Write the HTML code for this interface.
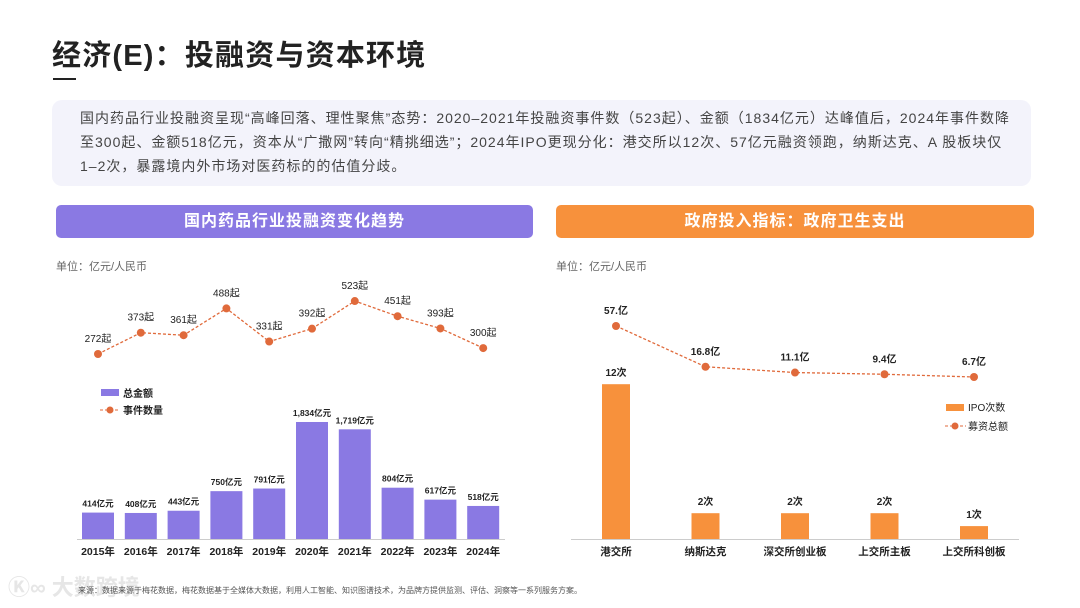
<!DOCTYPE html>
<html><head><meta charset="utf-8"><style>
body{margin:0;width:1080px;height:608px;background:#fff;overflow:hidden;position:relative;font-family:"Liberation Sans","Noto Sans CJK SC",sans-serif;color:#222}
.abs{position:absolute}
#title{left:52px;top:32px;font-size:29px;font-weight:bold;letter-spacing:1.2px;color:#222;white-space:nowrap}
#uline{left:53px;top:78px;width:23px;height:2px;background:#222}
#box{left:52px;top:100px;width:979px;height:86px;background:#f3f3fb;border-radius:10px}
#para{left:80px;top:106px;font-size:14px;line-height:24px;letter-spacing:1px;color:#444;white-space:nowrap}
.hdr{top:205px;height:33px;border-radius:5px;color:#fff;font-size:16px;font-weight:bold;text-align:center;line-height:33px;letter-spacing:1px}
.unit{top:258px;font-size:11px;color:#666}
#foot{left:78px;top:585px;font-size:8px;color:#555;white-space:nowrap}
#wm{left:8px;top:570px;font-size:22px;color:#e6e6e6;font-weight:bold;white-space:nowrap}
</style></head><body>
<div class="abs" id="title">经济(E)：投融资与资本环境</div>
<div class="abs" id="uline"></div>
<div class="abs" id="box"></div>
<div class="abs" id="para">国内药品行业投融资呈现“高峰回落、理性聚焦”态势：2020–2021年投融资事件数（523起）、金额（1834亿元）达峰值后，2024年事件数降<br>至300起、金额518亿元，资本从“广撒网”转向“精挑细选”；2024年IPO更现分化：港交所以12次、57亿元融资领跑，纳斯达克、A 股板块仅<br>1–2次，暴露境内外市场对医药标的的估值分歧。</div>
<div class="abs hdr" style="left:56px;width:477px;background:#8a79e3">国内药品行业投融资变化趋势</div>
<div class="abs hdr" style="left:556px;width:478px;background:#f7913c">政府投入指标：政府卫生支出</div>
<div class="abs unit" style="left:56px">单位：亿元/人民币</div>
<div class="abs unit" style="left:556px">单位：亿元/人民币</div>
<div class="abs" id="wm">Ⓚ∞ 大数跨境</div>
<div class="abs" id="foot">来源：数据来源于梅花数据，梅花数据基于全媒体大数据，利用人工智能、知识图谱技术，为品牌方提供监测、评估、洞察等一系列服务方案。</div>
<svg class="abs" id="chart" style="left:0;top:0" width="1080" height="608"></svg>
<script>
const years=["2015年","2016年","2017年","2018年","2019年","2020年","2021年","2022年","2023年","2024年"];
const amounts=[414,408,443,750,791,1834,1719,804,617,518];
const amountLabels=["414亿元","408亿元","443亿元","750亿元","791亿元","1,834亿元","1,719亿元","804亿元","617亿元","518亿元"];
const events=[272,373,361,488,331,392,523,451,393,300];
const exchanges=["港交所","纳斯达克","深交所创业板","上交所主板","上交所科创板"];
const ipoCounts=[12,2,2,2,1];
const raised=[57,16.8,11.1,9.4,6.7];
const raisedLabels=["57.亿","16.8亿","11.1亿","9.4亿","6.7亿"];
const svg=document.getElementById('chart');const NS="http://www.w3.org/2000/svg";
function mk(t,a,txt){const e=document.createElementNS(NS,t);for(const k in a)e.setAttribute(k,a[k]);if(txt!==undefined)e.textContent=txt;svg.appendChild(e);return e;}
const F='"Liberation Sans","Noto Sans CJK SC",sans-serif';
const lx=i=>98+i*42.8, ly=v=>539-v*0.0638, ey=v=>354-(v-272)*0.211;
years.forEach((y,i)=>{
 let r=mk('rect',{x:lx(i)-16,y:ly(amounts[i]),width:32,height:539-ly(amounts[i]),fill:'#8a79e3'});
 
 let t=mk('text',{x:lx(i),y:ly(amounts[i])-6,'text-anchor':'middle','font-size':8.5,'font-weight':'bold','font-family':F,fill:'#222'},amountLabels[i]);
 
 let a=mk('text',{x:lx(i),y:555,'text-anchor':'middle','font-size':10.5,'font-weight':'bold','font-family':F,fill:'#222'},y);
 
});
let bl=mk('line',{x1:77,x2:505,y1:539.5,y2:539.5,stroke:'#ccc'});
let pl=mk('polyline',{points:events.map((v,i)=>lx(i)+','+ey(v)).join(' '),fill:'none',stroke:'#e06a3b','stroke-width':1.3,'stroke-dasharray':'3,2'});

events.forEach((v,i)=>{
 let c=mk('circle',{cx:lx(i),cy:ey(v),r:4,fill:'#e06a3b'});
 let t=mk('text',{x:lx(i),y:ey(v)-12,'text-anchor':'middle','font-size':10,'font-family':F,fill:'#222'},v+'起');
 
});
let lg1=mk('rect',{x:101,y:389,width:18,height:7,fill:'#8a79e3'});
let lt1=mk('text',{x:123,y:397,'font-size':10,'font-weight':'bold','font-family':F,fill:'#222'},'总金额');
let lg2=mk('line',{x1:100,x2:120,y1:410,y2:410,stroke:'#e06a3b','stroke-dasharray':'3,2'});
let lc2=mk('circle',{cx:110,cy:410,r:3.5,fill:'#e06a3b'});
let lt2=mk('text',{x:123,y:414,'font-size':10,'font-weight':'bold','font-family':F,fill:'#222'},'事件数量');
const rx=i=>616+i*89.5, ry=v=>539-v*12.9, gy=v=>377-(v-6.7)*1.014;
exchanges.forEach((n,i)=>{
 let r=mk('rect',{x:rx(i)-14,y:ry(ipoCounts[i]),width:28,height:539-ry(ipoCounts[i]),fill:'#f7913c'});
 
 let t=mk('text',{x:rx(i),y:ry(ipoCounts[i])-8,'text-anchor':'middle','font-size':10,'font-weight':'bold','font-family':F,fill:'#222'},ipoCounts[i]+'次');
 
 let a=mk('text',{x:rx(i),y:555,'text-anchor':'middle','font-size':10.5,'font-weight':'bold','font-family':F,fill:'#222'},n);
 
});
let bl2=mk('line',{x1:571,x2:1019,y1:539.5,y2:539.5,stroke:'#ccc'});
let pl2=mk('polyline',{points:raised.map((v,i)=>rx(i)+','+gy(v)).join(' '),fill:'none',stroke:'#e06a3b','stroke-width':1.3,'stroke-dasharray':'3,2'});

raised.forEach((v,i)=>{
 let c=mk('circle',{cx:rx(i),cy:gy(v),r:4,fill:'#e06a3b'});
 let t=mk('text',{x:rx(i),y:gy(v)-12,'text-anchor':'middle','font-size':10,'font-weight':'bold','font-family':F,fill:'#222'},raisedLabels[i]);
 
});
let rg1=mk('rect',{x:946,y:404,width:18,height:7,fill:'#f7913c'});
let rt1=mk('text',{x:968,y:411,'font-size':10,'font-family':F,fill:'#222'},'IPO次数');
let rg2=mk('line',{x1:945,x2:966,y1:426,y2:426,stroke:'#e06a3b','stroke-dasharray':'3,2'});
let rc2=mk('circle',{cx:955,cy:426,r:3.5,fill:'#e06a3b'});
let rt2=mk('text',{x:968,y:430,'font-size':10,'font-family':F,fill:'#222'},'募资总额');
</script>
</body></html>
